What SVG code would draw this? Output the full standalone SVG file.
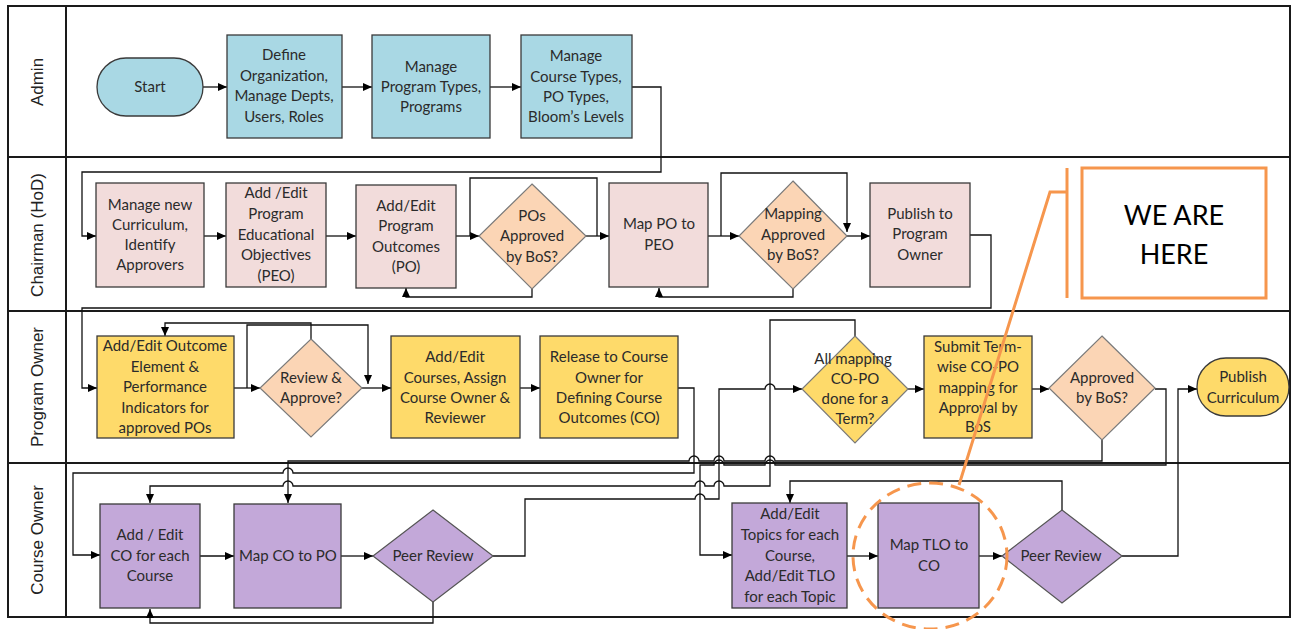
<svg xmlns="http://www.w3.org/2000/svg" width="1296" height="629" viewBox="0 0 1296 629">
<style>
.lane{fill:none;stroke:#1a1a1a;stroke-width:2}
.lt{font-family:'Liberation Sans',Arial,sans-serif;font-size:17px;fill:#222;text-anchor:middle}
.t{font-family:Lato,'Liberation Sans',sans-serif;font-size:15px;fill:#2b2b2b;text-anchor:middle}
.big{font-family:Lato,'Liberation Sans',sans-serif;font-size:27px;fill:#000;text-anchor:middle}
.blue{fill:#A9D8E4;stroke:#3a3a3a;stroke-width:1.3}
.pink{fill:#F2DCDB;stroke:#3a3a3a;stroke-width:1.3}
.peach{fill:#FBD5B5;stroke:#7a7a7a;stroke-width:1.2}
.yel{fill:#FEDA6A;stroke:#3a3a3a;stroke-width:1.3}
.ydia{fill:#FEDA6A;stroke:#7a7a7a;stroke-width:1.2}
.pur{fill:#C3A8D9;stroke:#3a3a3a;stroke-width:1.3}
.pdia{fill:#C3A8D9;stroke:#555;stroke-width:1.2}
.c{fill:none;stroke:#111;stroke-width:1.3}
.ca{fill:none;stroke:#111;stroke-width:1.3;marker-end:url(#ah)}
.or{fill:none;stroke:#F6964D;stroke-width:3}
</style>
<defs>
<marker id="ah" markerWidth="9" markerHeight="8" refX="9" refY="4" orient="auto" markerUnits="userSpaceOnUse"><path d="M0,0 L9,4 L0,8 z" fill="#000"/></marker>
</defs>

<g id="lanes">
<rect class="lane" x="8" y="6" width="1282" height="611"/>
<line class="lane" x1="66" y1="6" x2="66" y2="617"/>
<line class="lane" x1="8" y1="157" x2="1290" y2="157"/>
<line class="lane" x1="8" y1="311" x2="1290" y2="311"/>
<line class="lane" x1="8" y1="463" x2="1290" y2="463"/>
<text class="lt" transform="translate(43,82) rotate(-90)">Admin</text>
<text class="lt" transform="translate(43,235) rotate(-90)">Chairman (HoD)</text>
<text class="lt" transform="translate(43,387) rotate(-90)">Program Owner</text>
<text class="lt" transform="translate(43,540) rotate(-90)">Course Owner</text>
</g>

<g id="connectors">
<path class="ca" d="M203,87 H227"/>
<path class="ca" d="M342,87 H372"/>
<path class="ca" d="M490,87 H521"/>
<path class="ca" d="M632,87 H661 V172 H82 V236 H96"/>
<path class="ca" d="M204,236 H226"/>
<path class="ca" d="M326,236 H356"/>
<path class="ca" d="M456,236 H479"/>
<path class="c" d="M470,236 V178 H597 V236"/>
<path class="ca" d="M586,236 H609"/>
<path class="ca" d="M532,289 V297 H406 V288"/>
<path class="ca" d="M708,236 H739"/>
<path class="ca" d="M721,236 V173 H847 V232"/>
<path class="ca" d="M847,236 H870"/>
<path class="ca" d="M793,289 V297 H659 V288"/>
<path class="ca" d="M970,235 H991 V308 H82 V388 H97"/>
<path class="ca" d="M234,388 H260"/>
<path class="ca" d="M247,388 V325 H368 V384"/>
<path class="ca" d="M362,388 H391"/>
<path class="ca" d="M311,339 V323 H165 V336"/>
<path class="ca" d="M520,388 H540"/>
<path class="ca" d="M678,388 H694 V473 H293 A5,5 0 0 0 283,473 H73 V555 H100"/>
<path class="ca" d="M855,336 V320 H770 V486 H724 A5,5 0 0 0 714,486 H705 A5,5 0 0 0 695,486 H293 A5,5 0 0 0 283,486 H150 V503"/>
<path class="ca" d="M908,389 H924"/>
<path class="ca" d="M1032,389 H1049"/>
<path class="ca" d="M1102,440 V461 H775 A5,5 0 0 0 765,461 H724 A5,5 0 0 0 714,461 H699 A5,5 0 0 0 689,461 H288 V503"/>
<path class="ca" d="M1155,389 H1166 V465 H775 A5,5 0 0 0 765,465 H724 A5,5 0 0 0 714,465 H700 V555 H732"/>
<path class="ca" d="M1122,556 H1178 V389 H1197"/>
<path class="ca" d="M200,556 H234"/>
<path class="ca" d="M341,556 H373"/>
<path class="ca" d="M433,602 V623 H150 V609"/>
<path class="ca" d="M493,556 H525 V499 H695 A5,5 0 0 1 705,499 H719 V389 H765 A5,5 0 0 1 775,389 H802"/>
<path class="ca" d="M847,556 H878"/>
<path class="ca" d="M979,556 H1002"/>
<path class="ca" d="M1062,510 V481 H790 V503"/>
</g>

<g id="start">
<rect class="blue" x="97" y="58" width="106" height="58" rx="29"/>
<text class="t" x="150" y="92">Start</text>
</g>
<g id="define-org">
<rect class="blue" x="227" y="35" width="115" height="103"/>
<text class="t" x="284" y="60">Define</text>
<text class="t" x="284" y="81">Organization,</text>
<text class="t" x="284" y="101">Manage Depts,</text>
<text class="t" x="284" y="122">Users, Roles</text>
</g>
<g id="manage-program-types">
<rect class="blue" x="372" y="35" width="118" height="103"/>
<text class="t" x="431" y="72">Manage</text>
<text class="t" x="431" y="92">Program Types,</text>
<text class="t" x="431" y="112">Programs</text>
</g>
<g id="manage-course-types">
<rect class="blue" x="521" y="35" width="111" height="103"/>
<text class="t" x="576" y="61">Manage</text>
<text class="t" x="576" y="82">Course Types,</text>
<text class="t" x="576" y="102">PO Types,</text>
<text class="t" x="576" y="122">Bloom’s Levels</text>
</g>

<g id="manage-curriculum">
<rect class="pink" x="96" y="183" width="108" height="104"/>
<text class="t" x="150" y="210">Manage new</text>
<text class="t" x="150" y="230">Curriculum,</text>
<text class="t" x="150" y="250">Identify</text>
<text class="t" x="150" y="270">Approvers</text>
</g>
<g id="add-peo">
<rect class="pink" x="226" y="183" width="100" height="104"/>
<text class="t" x="276" y="198">Add /Edit</text>
<text class="t" x="276" y="219">Program</text>
<text class="t" x="276" y="240">Educational</text>
<text class="t" x="276" y="260">Objectives</text>
<text class="t" x="276" y="281">(PEO)</text>
</g>
<g id="add-po">
<rect class="pink" x="356" y="185" width="100" height="103"/>
<text class="t" x="406" y="211">Add/Edit</text>
<text class="t" x="406" y="231">Program</text>
<text class="t" x="406" y="252">Outcomes</text>
<text class="t" x="406" y="272">(PO)</text>
</g>
<g id="pos-approved">
<polygon class="peach" points="532,184 586,236 532,289 479,236"/>
<text class="t" x="532" y="221">POs</text>
<text class="t" x="532" y="241">Approved</text>
<text class="t" x="532" y="262">by BoS?</text>
</g>
<g id="map-po-peo">
<rect class="pink" x="609" y="183" width="99" height="104"/>
<text class="t" x="659" y="229">Map PO to</text>
<text class="t" x="659" y="250">PEO</text>
</g>
<g id="mapping-approved">
<polygon class="peach" points="793,181 847,236 793,289 739,236"/>
<text class="t" x="793" y="219">Mapping</text>
<text class="t" x="793" y="240">Approved</text>
<text class="t" x="793" y="260">by BoS?</text>
</g>
<g id="publish-po">
<rect class="pink" x="870" y="183" width="100" height="104"/>
<text class="t" x="920" y="219">Publish to</text>
<text class="t" x="920" y="239">Program</text>
<text class="t" x="920" y="260">Owner</text>
</g>

<g id="add-outcome">
<rect class="yel" x="97" y="336" width="137" height="102"/>
<text class="t" x="165" y="351">Add/Edit Outcome</text>
<text class="t" x="165" y="372">Element &amp;</text>
<text class="t" x="165" y="392">Performance</text>
<text class="t" x="165" y="413">Indicators for</text>
<text class="t" x="165" y="433">approved POs</text>
</g>
<g id="review-approve">
<polygon class="peach" points="311,339 362,388 311,437 260,388"/>
<text class="t" x="311" y="383">Review &amp;</text>
<text class="t" x="311" y="403">Approve?</text>
</g>
<g id="add-courses">
<rect class="yel" x="391" y="336" width="129" height="102"/>
<text class="t" x="455" y="362">Add/Edit</text>
<text class="t" x="455" y="383">Courses, Assign</text>
<text class="t" x="455" y="403">Course Owner &amp;</text>
<text class="t" x="455" y="423">Reviewer</text>
</g>
<g id="release">
<rect class="yel" x="540" y="336" width="138" height="102"/>
<text class="t" x="609" y="362">Release to Course</text>
<text class="t" x="609" y="383">Owner for</text>
<text class="t" x="609" y="403">Defining Course</text>
<text class="t" x="609" y="423">Outcomes (CO)</text>
</g>
<g id="all-mapping">
<polygon class="ydia" points="855,336 908,389 855,443 802,389"/>
<text class="t" x="853" y="364">All mapping</text>
<text class="t" x="855" y="384">CO-PO</text>
<text class="t" x="855" y="404">done for a</text>
<text class="t" x="855" y="424">Term?</text>
</g>
<g id="submit">
<rect class="yel" x="924" y="336" width="108" height="102"/>
<text class="t" x="978" y="352">Submit Term-</text>
<text class="t" x="978" y="372">wise CO-PO</text>
<text class="t" x="978" y="393">mapping for</text>
<text class="t" x="978" y="413">Approval by</text>
<text class="t" x="978" y="432">BoS</text>
</g>
<g id="approved-bos">
<polygon class="peach" points="1102,336 1155,388 1102,440 1049,388"/>
<text class="t" x="1102" y="383">Approved</text>
<text class="t" x="1102" y="403">by BoS?</text>
</g>
<g id="publish-curriculum">
<rect class="yel" x="1197" y="358" width="92" height="58" rx="29"/>
<text class="t" x="1243" y="382">Publish</text>
<text class="t" x="1243" y="403">Curriculum</text>
</g>

<g id="add-co">
<rect class="pur" x="100" y="504" width="100" height="104"/>
<text class="t" x="150" y="540">Add / Edit</text>
<text class="t" x="150" y="561">CO for each</text>
<text class="t" x="150" y="581">Course</text>
</g>
<g id="map-co-po">
<rect class="pur" x="234" y="504" width="107" height="104"/>
<text class="t" x="288" y="561">Map CO to PO</text>
</g>
<g id="peer-review-1">
<polygon class="pdia" points="433,510 493,556 433,602 373,556"/>
<text class="t" x="433" y="561">Peer Review</text>
</g>
<g id="add-topics">
<rect class="pur" x="732" y="503" width="115" height="105"/>
<text class="t" x="790" y="519">Add/Edit</text>
<text class="t" x="790" y="540">Topics for each</text>
<text class="t" x="790" y="561">Course,</text>
<text class="t" x="790" y="581">Add/Edit TLO</text>
<text class="t" x="790" y="602">for each Topic</text>
</g>
<g id="map-tlo-co">
<rect class="pur" x="878" y="503" width="101" height="105"/>
<text class="t" x="929" y="550">Map TLO to</text>
<text class="t" x="929" y="571">CO</text>
</g>
<g id="peer-review-2">
<polygon class="pdia" points="1062,510 1122,556 1062,603 1002,556"/>
<text class="t" x="1061" y="561">Peer Review</text>
</g>

<g id="we-are-here">
<ellipse class="or" cx="930" cy="556" rx="77" ry="73" stroke-dasharray="14 8"/>
<path class="or" d="M959,485 L1050,192 H1067"/>
<line class="or" x1="1067" y1="168" x2="1067" y2="298"/>
<rect class="or" x="1082" y="168" width="184" height="130" fill="#fff"/>
<text class="big" x="1174" y="225">WE ARE</text>
<text class="big" x="1174" y="264">HERE</text>
</g>
</svg>
